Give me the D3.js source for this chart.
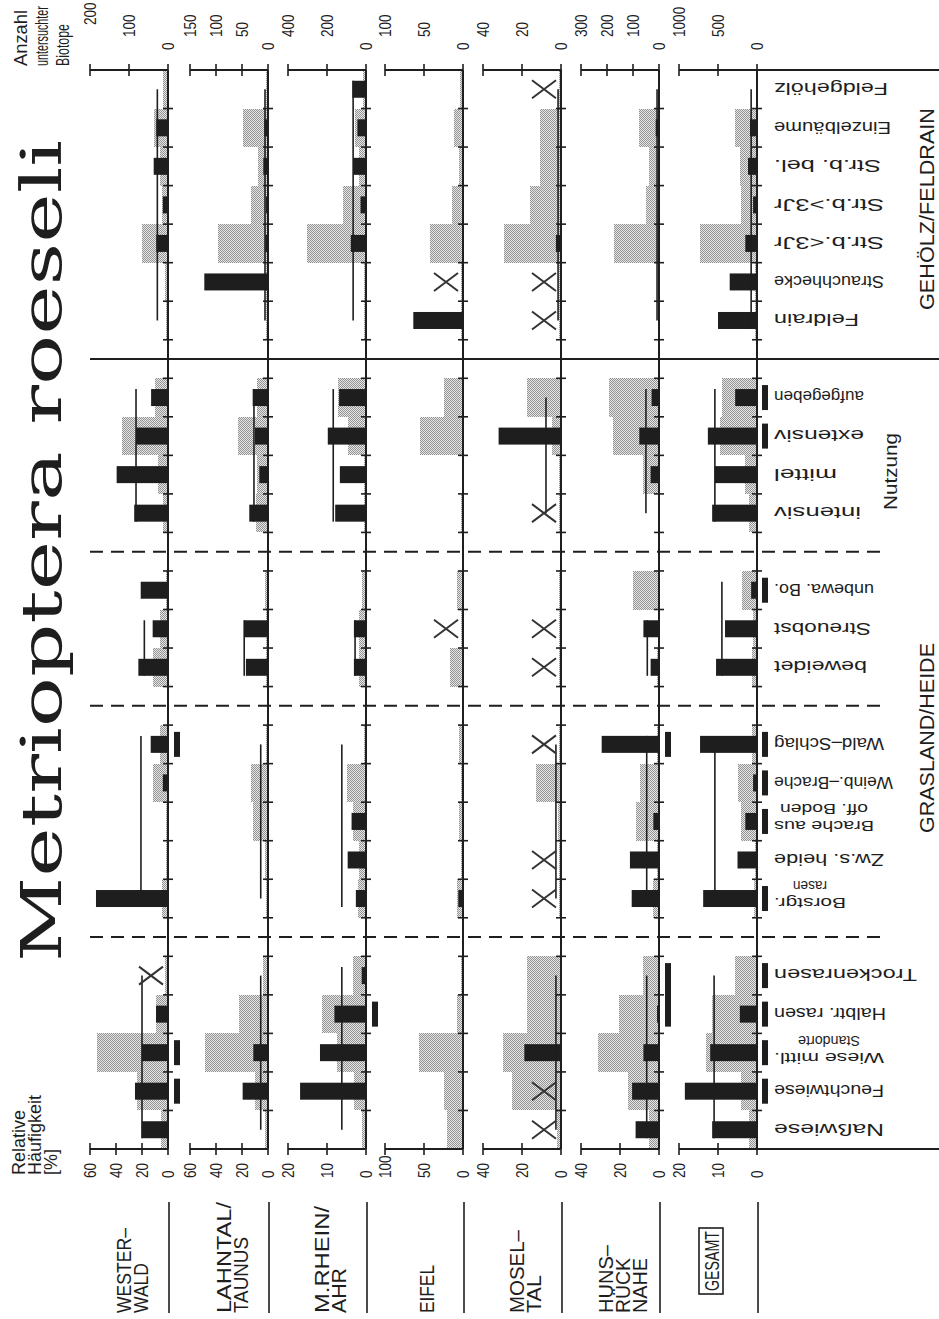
<!DOCTYPE html>
<html>
<head>
<meta charset="utf-8">
<script src="https://cdn.jsdelivr.net/npm/d3@7"></script>
<style>
  body { margin: 0; background: #fff; }
  svg { display: block; }
  text { fill: #1e1e1e; }
</style>
</head>
<body>
<svg id="chart" width="939" height="1319"></svg>
<script>
// ---- categories (top to bottom) ----
const categories = [
  "Feldgehölz", "Einzelbäume", "Str.b. bel.", "Str.b.>3Jr", "Str.b.<3Jr", "Strauchhecke", "Feldrain",
  "aufgegeben", "extensiv", "mittel", "intensiv",
  "unbewa. Bo.", "Streuobst", "beweidet",
  "Wald–Schlag", "Weinb.–Brache", "Brache aus\noff. Boden", "Zw.s. heide", "Borstgr.\nrasen",
  "Trockenrasen", "Halbtr. rasen", "Wiese mittl.\nStandorte", "Feuchtwiese", "Naßwiese"
];
const groupSizes = [7, 4, 3, 5, 5];
const separatorStyles = ["solid", "dashed", "dashed", "dashed"];

// ---- regions ----
const regionNames = ["WESTER–\nWALD", "LAHNTAL/\nTAUNUS", "M.RHEIN/\nAHR", "EIFEL", "MOSEL–\nTAL", "HUNS–\nRÜCK\nNAHE", "GESAMT"];
const countMax = [200, 150, 400, 100, 40, 300, 1000];
const countTicks = [[0, 100, 200], [0, 50, 100, 150], [0, 200, 400], [0, 50, 100], [0, 20, 40], [0, 100, 200, 300], [0, 500, 1000]];
const pctMax = [60, 60, 20, 100, 40, 40, 20];
const pctTicks = [[0, 20, 40, 60], [0, 20, 40, 60], [0, 10, 20], [0, 50, 100], [0, 20, 40], [0, 20, 40], [0, 10, 20]];

// number of investigated biotopes per category
const westerwaldCount = [12, 36, 20, 16, 67, 8, 5, 33, 119, 25, 12, 4, 20, 38, 20, 39, 5, 5, 15, 8, 30, 181, 80, 18];
const lahntalCount    = [4, 49, 19, 33, 97, 4, 3, 22, 58, 21, 23, 6, 3, 3, 3, 33, 28, 6, 3, 10, 55, 121, 25, 6];
const mrheinCount     = [15, 56, 36, 116, 301, 8, 8, 145, 91, 10, 10, 20, 34, 34, 8, 99, 68, 36, 39, 65, 227, 150, 60, 20];
const eifelCount      = [4, 11, 5, 14, 42, 3, 3, 24, 55, 1, 2, 8, 3, 17, 5, 2, 5, 2, 8, 2, 8, 57, 25, 20];
const moselCount      = [1, 11, 11, 16, 29, 1, 1, 17.6, 4.8, 1, 1, 1, 1, 1, 1, 12.8, 1.5, 1, 1, 17.6, 17.6, 30, 25, 2];
const hunsrueckCount  = [5, 77, 37, 50, 172, 4, 4, 191, 176, 60, 4, 99, 4, 8, 8, 73, 88, 6, 23, 60, 153, 233, 120, 40];
const gesamtCount     = [10, 280, 220, 200, 730, 20, 20, 450, 480, 150, 100, 190, 50, 60, 60, 240, 200, 30, 40, 280, 580, 660, 200, 100];

// relative frequency [%] per category
const westerwaldPct = [0, 9, 11, 4, 9, 0, 0, 13, 24.6, 39.5, 26, 21, 11.8, 22.8, 13.3, 4, 0, 0, 55.4, 0, 9.2, 20.2, 25.4, 20.2];
const lahntalPct    = [0, 2.8, 3.6, 1.5, 2, 49, 0, 11.8, 10, 6.7, 14.4, 0, 18.5, 17, 0, 0, 0, 0, 0, 0, 0, 11.3, 19.5, 0];
const mrheinPct     = [3.5, 2.2, 3.3, 1.4, 3.9, 0, 0, 6.9, 9.8, 6.7, 7.9, 0, 3.1, 3.1, 0, 0, 3.7, 4.7, 2.6, 1.1, 8.1, 11.8, 16.9, 0];
const eifelPct      = [0, 0, 0, 0, 0, 0, 63.7, 0, 0, 0, 0, 0, 0, 0, 0, 0, 0, 0, 6, 0, 0, 0, 0, 0];
const moselPct      = [0, 0, 0, 0, 2.6, 0, 0, 0, 32, 0, 0, 0, 0, 0, 0, 0, 0, 0, 0, 0, 0, 18.8, 0, 0];
const hunsrueckPct  = [0, 1.7, 0, 0, 0, 0, 0, 3.8, 10.1, 4.3, 0, 0, 8, 4.3, 29.4, 0, 2.9, 14.9, 14, 0, 1, 8, 13.8, 12];
const gesamtPct     = [0, 1.8, 2.3, 1, 3, 7, 10, 5.6, 12.6, 10.8, 11.5, 1.5, 8.2, 10.5, 14.6, 1, 3, 5, 13.8, 0, 4.4, 12, 18.5, 11.5];

// group means [%]: first category, last category, value
const westerwaldMean = [["Feldgehölz", "Feldrain", 8.2], ["aufgegeben", "intensiv", 24.6], ["Streuobst", "beweidet", 18.2], ["Wald–Schlag", "Borstgr.\nrasen", 20.8], ["Trockenrasen", "Naßwiese", 20]];
const lahntalMean    = [["Feldgehölz", "Feldrain", 2.3], ["aufgegeben", "intensiv", 10.8], ["Streuobst", "beweidet", 18.3], ["Wald–Schlag", "Borstgr.\nrasen", 5.6], ["Trockenrasen", "Naßwiese", 5.6]];
const mrheinMean     = [["Feldgehölz", "Feldrain", 3.3], ["aufgegeben", "intensiv", 8.4], ["Streuobst", "beweidet", 2.8], ["Wald–Schlag", "Borstgr.\nrasen", 6.2], ["Trockenrasen", "Naßwiese", 6.2]];
const eifelMean      = [];
const moselMean      = [["Feldgehölz", "Feldrain", 1.5], ["aufgegeben", "intensiv", 7.7], ["Wald–Schlag", "Borstgr.\nrasen", 2.6], ["Trockenrasen", "Naßwiese", 2.6]];
const hunsrueckMean  = [["Feldgehölz", "Feldrain", 1], ["aufgegeben", "intensiv", 6.7], ["Streuobst", "beweidet", 6], ["Wald–Schlag", "Borstgr.\nrasen", 6.3], ["Trockenrasen", "Naßwiese", 6.3]];
const gesamtMean     = [["Feldgehölz", "Feldrain", 1.5], ["aufgegeben", "intensiv", 10.8], ["unbewa. Bo.", "beweidet", 9], ["Wald–Schlag", "Borstgr.\nrasen", 10.8], ["Trockenrasen", "Naßwiese", 11]];

// biotope types investigated without a find
const westerwaldAbsent = ["Trockenrasen"];
const lahntalAbsent    = [];
const mrheinAbsent     = [];
const eifelAbsent      = ["Strauchhecke", "Streuobst"];
const moselAbsent      = ["Feldgehölz", "Strauchhecke", "Feldrain", "intensiv", "Streuobst", "beweidet", "Wald–Schlag", "Zw.s. heide", "Borstgr.\nrasen", "Feuchtwiese", "Naßwiese"];
const hunsrueckAbsent  = [];
const gesamtAbsent     = [];

// highlighted biotope types (first, last)
const westerwaldMark = [["Wald–Schlag", "Wald–Schlag"], ["Wiese mittl.\nStandorte", "Wiese mittl.\nStandorte"], ["Feuchtwiese", "Feuchtwiese"]];
const lahntalMark    = [];
const mrheinMark     = [["Halbtr. rasen", "Halbtr. rasen"]];
const eifelMark      = [];
const moselMark      = [];
const hunsrueckMark  = [["Wald–Schlag", "Wald–Schlag"], ["Trockenrasen", "Halbtr. rasen"]];
const gesamtMark     = [["aufgegeben", "aufgegeben"], ["extensiv", "extensiv"], ["unbewa. Bo.", "unbewa. Bo."], ["Wald–Schlag", "Wald–Schlag"], ["Weinb.–Brache", "Weinb.–Brache"], ["Brache aus\noff. Boden", "Brache aus\noff. Boden"], ["Borstgr.\nrasen", "Borstgr.\nrasen"], ["Trockenrasen", "Trockenrasen"], ["Halbtr. rasen", "Halbtr. rasen"], ["Wiese mittl.\nStandorte", "Wiese mittl.\nStandorte"], ["Feuchtwiese", "Feuchtwiese"]];

const allCount  = [westerwaldCount, lahntalCount, mrheinCount, eifelCount, moselCount, hunsrueckCount, gesamtCount];
const allPct    = [westerwaldPct, lahntalPct, mrheinPct, eifelPct, moselPct, hunsrueckPct, gesamtPct];
const allMean   = [westerwaldMean, lahntalMean, mrheinMean, eifelMean, moselMean, hunsrueckMean, gesamtMean];
const allAbsent = [westerwaldAbsent, lahntalAbsent, mrheinAbsent, eifelAbsent, moselAbsent, hunsrueckAbsent, gesamtAbsent];
const allMark   = [westerwaldMark, lahntalMark, mrheinMark, eifelMark, moselMark, hunsrueckMark, gesamtMark];

// ---- layout ----
const yTop = 70, yBottom = 1149;
const panelBase = [168, 268, 366, 463, 561, 659, 757];
const axisLen = 78;
const barH = 17;
const ink = "#1e1e1e";
const labelEnd = 774;
// drawn length of each category label line
const labelLengths = [[114], [117], [107], [110], [110], [110], [85],
  [90], [90], [63], [87], [100], [97], [93],
  [110], [119], [100, 88], [110], [72, 34],
  [143], [112], [110, 62], [110], [110]];
// drawn length of each region label line
const regionLabelLengths = [[85, 50], [111, 76], [107, 45], [48], [83, 38], [68, 55, 55], [60]];

const svg = d3.select("#chart");
const defs = svg.append("defs");
const pat = defs.append("pattern").attr("id", "stipple")
  .attr("width", 2).attr("height", 2).attr("patternUnits", "userSpaceOnUse");
pat.append("rect").attr("width", 2).attr("height", 2).attr("fill", "#e6e6e6");
pat.append("rect").attr("width", 1).attr("height", 1).attr("fill", "#939393");
pat.append("rect").attr("x", 1).attr("y", 1).attr("width", 1).attr("height", 1).attr("fill", "#939393");

// slot band: categories plus one empty slot between groups
const slotKeys = [];
const sepKeys = [];
{
  let k = 0;
  groupSizes.forEach((n, gi) => {
    for (let i = 0; i < n; i++) slotKeys.push(categories[k++]);
    if (gi < groupSizes.length - 1) { slotKeys.push("sep" + gi); sepKeys.push("sep" + gi); }
  });
}
const y = d3.scaleBand().domain(slotKeys).range([yTop, yBottom]);
const bw = y.bandwidth();
const yc = c => y(c) + bw / 2;

// vertical text helper (reads bottom to top)
function vText(g, x, yy, str, size, opts = {}) {
  const t = g.append("text")
    .attr("font-family", opts.family || "Liberation Sans, Arial, sans-serif")
    .attr("font-size", size)
    .attr("text-anchor", opts.anchor || "start")
    .text(str);
  let sx = opts.sx || 1;
  if (opts.fit) sx = opts.fit / t.node().getComputedTextLength();
  t.attr("transform", `translate(${x},${yy}) rotate(-90)` + (sx !== 1 ? ` scale(${sx},1)` : ""));
  if (opts.len) t.attr("textLength", opts.len).attr("lengthAdjust", "spacingAndGlyphs");
  if (opts.baseline) t.attr("dominant-baseline", opts.baseline);
  return t;
}

const gSep = svg.append("g");
const gPanels = svg.append("g");
const gText = svg.append("g");

// ---- separators ----
sepKeys.forEach((k, i) => {
  const yy = yc(k);
  const solid = separatorStyles[i] === "solid";
  gSep.append("line")
    .attr("x1", 90).attr("x2", solid ? 939 : 888)
    .attr("y1", yy).attr("y2", yy)
    .attr("stroke", ink).attr("stroke-width", solid ? 1.8 : 2)
    .attr("stroke-dasharray", solid ? null : "13,8");
});

// ---- panels ----
regionNames.forEach((name, i) => {
  const base = panelBase[i];
  const xc = d3.scaleLinear().domain([0, countMax[i]]).range([base, base - axisLen]);
  const xp = d3.scaleLinear().domain([0, pctMax[i]]).range([base, base - axisLen]);
  const g = gPanels.append("g");
  const counts = allCount[i], pcts = allPct[i];

  // investigated biotopes (stippled)
  g.selectAll("rect.count").data(categories.map((c, j) => ({ c, v: counts[j] })).filter(d => d.v > 0))
    .join("rect").attr("class", "count")
    .attr("x", d => xc(d.v)).attr("width", d => base - xc(d.v))
    .attr("y", d => y(d.c)).attr("height", bw)
    .attr("fill", "url(#stipple)").attr("shape-rendering", "crispEdges");

  // relative frequency (solid)
  g.selectAll("rect.pct").data(categories.map((c, j) => ({ c, v: pcts[j] })).filter(d => d.v > 0))
    .join("rect").attr("class", "pct")
    .attr("x", d => xp(d.v)).attr("width", d => base - xp(d.v))
    .attr("y", d => yc(d.c) - barH / 2).attr("height", barH)
    .attr("fill", ink);

  // group means
  const pctOf = c => pcts[categories.indexOf(c)];
  allMean[i].forEach(([a, b, v]) => {
    const y1 = yc(a) - (pctOf(a) > 0 ? barH / 2 : 0);
    const y2 = yc(b) + (pctOf(b) > 0 ? barH / 2 : 0);
    g.append("line").attr("x1", xp(v)).attr("x2", xp(v)).attr("y1", y1).attr("y2", y2)
      .attr("stroke", ink).attr("stroke-width", 1.6);
  });

  // zero axis with slot ticks
  g.append("line").attr("x1", base).attr("x2", base).attr("y1", yTop).attr("y2", yBottom)
    .attr("stroke", ink).attr("stroke-width", 2);
  slotKeys.slice(1).forEach(k => {
    g.append("line").attr("x1", base - 5).attr("x2", base + 5).attr("y1", y(k)).attr("y2", y(k))
      .attr("stroke", ink).attr("stroke-width", 1.6);
  });

  // not found
  allAbsent[i].forEach(c => {
    const cx = base - 17, cy = yc(c);
    g.append("path")
      .attr("d", `M${cx - 12},${cy - 9}L${cx + 12},${cy + 9}M${cx - 12},${cy + 9}L${cx + 12},${cy - 9}`)
      .attr("stroke", "#333").attr("stroke-width", 2).attr("fill", "none");
  });

  // highlighted types
  const mx = i === 6 ? base + 5 : base + 6;
  allMark[i].forEach(([a, b]) => {
    g.append("rect").attr("x", mx).attr("width", 6)
      .attr("y", yc(a) - 12.5).attr("height", yc(b) - yc(a) + 25).attr("fill", ink);
  });

  // count axis (top)
  g.append("line").attr("x1", xc(countMax[i])).attr("x2", i === 6 ? 939 : base).attr("y1", yTop).attr("y2", yTop)
    .attr("stroke", ink).attr("stroke-width", 2);
  countTicks[i].forEach(t => {
    g.append("line").attr("x1", xc(t)).attr("x2", xc(t)).attr("y1", yTop - 6).attr("y2", yTop + 6)
      .attr("stroke", ink).attr("stroke-width", 1.6);
    const yb = t === 0 ? 50 : (i === 0 && t === countMax[i] ? 25 : 37);
    vText(gText, xc(t), yb, String(t), 17, { baseline: "central", sx: 0.8 });
  });

  // percent axis (bottom)
  g.append("line").attr("x1", xp(pctMax[i])).attr("x2", i === 6 ? 939 : base).attr("y1", yBottom).attr("y2", yBottom)
    .attr("stroke", ink).attr("stroke-width", 2);
  pctTicks[i].forEach(t => {
    g.append("line").attr("x1", xp(t)).attr("x2", xp(t)).attr("y1", yBottom - 6).attr("y2", yBottom + 6)
      .attr("stroke", ink).attr("stroke-width", 1.6);
    vText(gText, xp(t), 1178, String(t), 17, { baseline: "central", sx: 0.8 });
  });

  // region label
  const lines = name.split("\n");
  const lh = 17;
  const isTotal = i === 6;
  const cx = base - (isTotal ? 46 : 37);
  const startY = isTotal ? 1291 : 1313;
  lines.forEach((ln, li) => {
    const bx = cx + (li - (lines.length - 1) / 2) * lh + 8;
    vText(gText, bx, startY, ln, 20.5, { len: regionLabelLengths[i][li] });
  });
  gText.append("line").attr("x1", base + 1).attr("x2", base + 1).attr("y1", 1202).attr("y2", 1313)
    .attr("stroke", ink).attr("stroke-width", 1.6);
  if (isTotal) {
    gText.append("rect").attr("x", cx - 12).attr("y", 1228).attr("width", 24).attr("height", 66)
      .attr("fill", "none").attr("stroke", ink).attr("stroke-width", 1.6);
  }
});

// ---- category labels (upside down) ----
categories.forEach((c, j) => {
  const lines = c.split("\n");
  const cy = yc(c);
  if (lines.length === 1) {
    gText.append("text")
      .attr("transform", `translate(${labelEnd},${cy}) rotate(180)`)
      .attr("text-anchor", "end").attr("dy", "0.36em")
      .attr("font-family", "Liberation Sans, Arial, sans-serif").attr("font-size", 17)
      .attr("textLength", labelLengths[j][0]).attr("lengthAdjust", "spacingAndGlyphs")
      .text(c);
  } else {
    const w0 = labelLengths[j][0];
    lines.forEach((ln, li) => {
      const off = li === 0 ? 5.5 : -11.5;
      const w = labelLengths[j][li];
      const x = li === 0 ? labelEnd : labelEnd + (w0 - w) / 2;
      gText.append("text")
        .attr("transform", `translate(${x},${cy + off}) rotate(180)`)
        .attr("text-anchor", "end").attr("dy", "0.36em")
        .attr("font-family", "Liberation Sans, Arial, sans-serif").attr("font-size", 15.5)
        .attr("textLength", w).attr("lengthAdjust", "spacingAndGlyphs")
        .text(ln);
    });
  }
});

// ---- group labels ----
vText(gText, 934, 310, "GEHÖLZ/FELDRAIN", 20, { len: 202 });
vText(gText, 897, 510, "Nutzung", 19, { len: 77 });
vText(gText, 934, 833, "GRASLAND/HEIDE", 20, { len: 190 });

// ---- titles ----
vText(gText, 61, 962, "Metrioptera roeseli", 56, { family: "DejaVu Serif, Liberation Serif, serif", len: 822 });
["Relative", "Häufigkeit", "[%]"].forEach((t, li) => vText(gText, 25 + li * 16, 1175, t, 18));
[["Anzahl", 56], ["untersuchter", 60], ["Biotope", 42]].forEach(([t, w], li) =>
  vText(gText, 27 + li * 21, 66, t, 18, { fit: w }));
</script>
</body>
</html>
